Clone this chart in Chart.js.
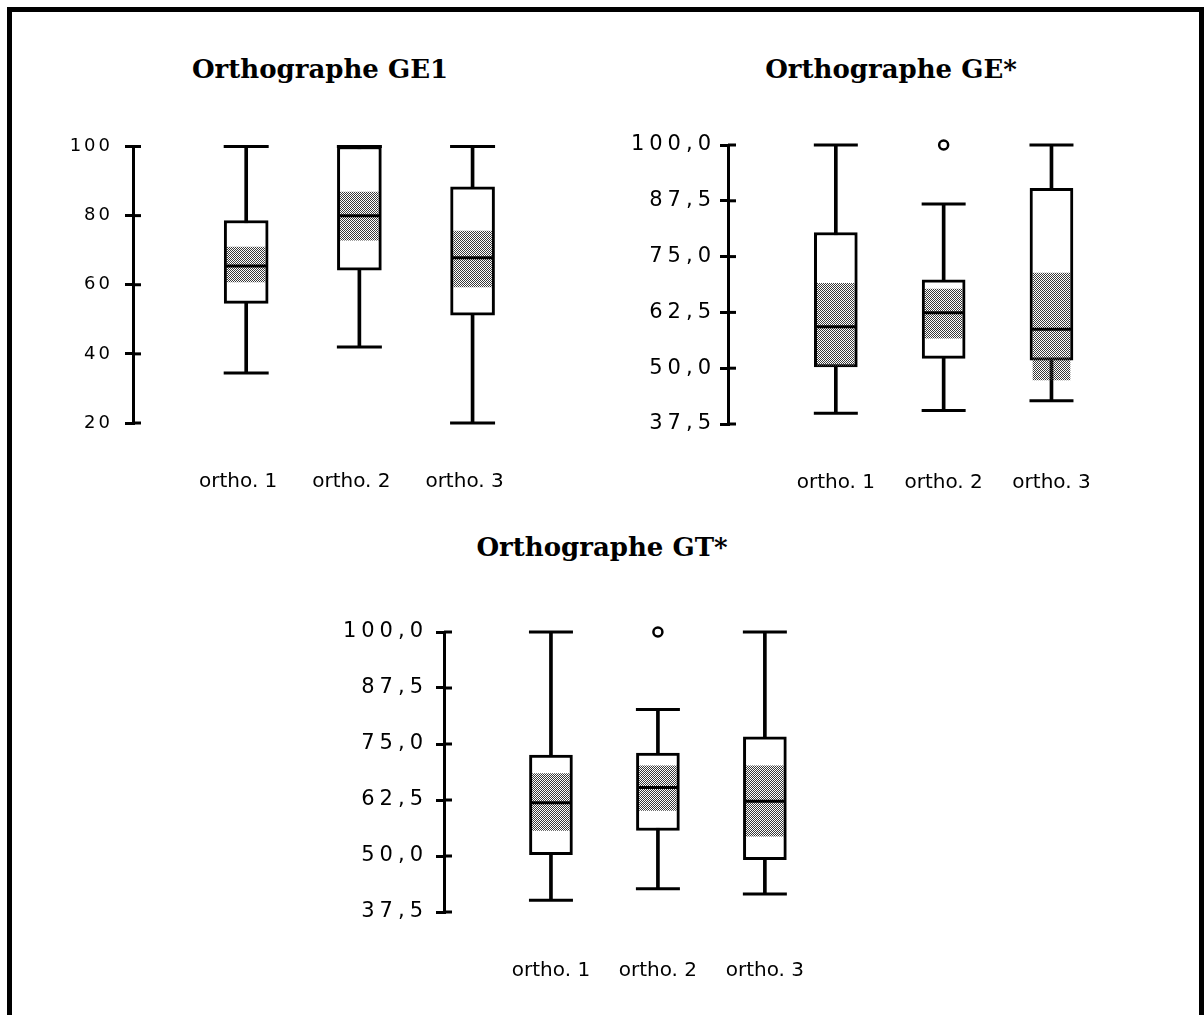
<!DOCTYPE html>
<html>
<head>
<meta charset="utf-8">
<script src="https://cdn.jsdelivr.net/npm/chart.js@4.4.1/dist/chart.umd.min.js"></script>
<style>
  html, body { margin: 0; padding: 0; background: #fff; overflow: hidden; width: 1204px; height: 1015px; }
  #frame { position: absolute; left: 7px; top: 7px; width: 1187px; height: 1003px;
    border: 5px solid #000; border-bottom: none; }
  .title { position: absolute; width: 400px; text-align: center; font-family: 'DejaVu Serif', serif;
    font-weight: bold; font-size: 26px; line-height: 26px; color: #000; }
  canvas { position: absolute; }
</style>
</head>
<body>
<div id="frame"></div>
<div class="title" style="left:120px; top:56px;">Orthographe GE1</div>
<div class="title" style="left:691px; top:56px;">Orthographe GE*</div>
<div class="title" style="left:402px; top:534px;">Orthographe GT*</div>
<canvas id="chartGE1" width="526" height="382" style="left:23px; top:121px;"></canvas>
<canvas id="chartGEs" width="507" height="384" style="left:618px; top:120px;"></canvas>
<canvas id="chartGTs" width="504" height="385" style="left:334px; top:607px;"></canvas>
<script>
const categories = ['ortho. 1', 'ortho. 2', 'ortho. 3'];

// Orthographe GE1
const ge1Ticks = [20, 40, 60, 80, 100];
const ge1Min = [34.5, 42, 20];
const ge1Q1 = [54.6, 64.2, 51.2];
const ge1Median = [65.4, 80, 67.8];
const ge1Q3 = [78.6, 100, 88.3];
const ge1Max = [100, 100, 100];
const ge1NotchLow = [60.8, 72.9, 59.4];
const ge1NotchHigh = [70.9, 86.8, 75.5];
const ge1Outliers = [null, null, null];

// Orthographe GE*
const gesTicks = [37.5, 50, 62.5, 75, 87.5, 100];
const gesMin = [39.9, 40.5, 42.7];
const gesQ1 = [50.3, 52.2, 51.8];
const gesMedian = [59.3, 62.4, 58.7];
const gesQ3 = [80.4, 69.8, 90.3];
const gesMax = [100, 86.8, 100];
const gesNotchLow = [50.5, 56.7, 47.4];
const gesNotchHigh = [69, 67.7, 71.3];
const gesOutliers = [null, 100, null];

// Orthographe GT*
const gtsTicks = [37.5, 50, 62.5, 75, 87.5, 100];
const gtsMin = [40.1, 42.7, 41.5];
const gtsQ1 = [50.3, 55.7, 49.2];
const gtsMedian = [61.9, 65.3, 62.2];
const gtsQ3 = [72.5, 73, 76.6];
const gtsMax = [100, 82.7, 100];
const gtsNotchLow = [55.7, 60.2, 54.4];
const gtsNotchHigh = [68.4, 70.1, 70.1];
const gtsOutliers = [null, 100, null];

// tick marks cross the axis line, chart.js only draws the outer half
const crossTicks = {
  id: 'crossTicks',
  afterDraw(chart) {
    const { ctx, chartArea, scales: { y } } = chart;
    ctx.save();
    ctx.strokeStyle = '#000';
    ctx.lineWidth = 3;
    y.ticks.forEach((t) => {
      const py = y.getPixelForValue(t.value);
      ctx.beginPath();
      ctx.moveTo(chartArea.left, py);
      ctx.lineTo(chartArea.left + 8, py);
      ctx.stroke();
    });
    ctx.restore();
  },
};

// the old printout has widely spaced digits
const letterSpacing = {
  id: 'letterSpacing',
  afterUpdate(chart, args, opts) {
    ['x', 'y'].forEach((id) => {
      const scale = chart.scales[id];
      if (!scale || scale._lsPatched) return;
      const draw = scale.drawLabels.bind(scale);
      scale.drawLabels = (area) => {
        const ctx = scale.ctx;
        ctx.save();
        ctx.letterSpacing = (opts[id] || 0) + 'px';
        draw(area);
        ctx.restore();
      };
      scale._lsPatched = true;
    });
  },
};

function stipple(ctx) {
  const tile = document.createElement('canvas');
  tile.width = 2;
  tile.height = 2;
  const g = tile.getContext('2d');
  g.fillStyle = '#3a3a3a';
  g.fillRect(0, 0, 1, 1);
  g.fillRect(1, 1, 1, 1);
  return ctx.createPattern(tile, 'repeat');
}

function drawBoxChart(id, cfg) {
  const ctx = document.getElementById(id).getContext('2d');
  const at = (vals) => vals.map((v, i) => ({ x: i + 1, y: v }));
  const range = (lo, hi) => lo.map((v, i) => ({ x: i + 1, y: [v, hi[i]] }));
  const capPoint = { type: 'line', showLine: false, pointStyle: 'line', pointRadius: cfg.box / 2 + 0.5,
    pointBorderWidth: 3, pointBorderColor: '#000', clip: false };

  return new Chart(ctx, {
    type: 'bar',
    data: {
      datasets: [
        { data: range(cfg.min, cfg.max), backgroundColor: '#000', borderWidth: 0,
          barThickness: 3, grouped: false, order: 5, clip: false },
        { data: range(cfg.q1, cfg.q3), backgroundColor: '#fff', borderColor: '#000', borderWidth: 3,
          borderSkipped: false, barThickness: cfg.box, grouped: false, order: 4, clip: false },
        { data: range(cfg.notchLow, cfg.notchHigh), backgroundColor: stipple(ctx), borderWidth: 0,
          barThickness: cfg.box - 6, grouped: false, order: 3, clip: false },
        { ...capPoint, data: at(cfg.median), pointRadius: cfg.box / 2 - 1, order: 2 },
        { ...capPoint, data: at(cfg.min), order: 1 },
        { ...capPoint, data: at(cfg.max), order: 1 },
        { type: 'line', showLine: false, data: at(cfg.outliers), pointStyle: 'circle', pointRadius: 4.5,
          pointBorderWidth: 2.5, pointBorderColor: '#000', pointBackgroundColor: '#fff', order: 0, clip: false },
      ],
    },
    options: {
      responsive: false,
      animation: false,
      events: [],
      devicePixelRatio: 1,
      layout: { padding: { top: 15, right: 15, left: 0, bottom: 0 } },
      plugins: {
        legend: { display: false },
        tooltip: { enabled: false },
        letterSpacing: { x: 0, y: cfg.spacing },
      },
      scales: {
        x: {
          type: 'linear',
          min: 0,
          max: 3.45,
          offset: false,
          grid: { display: false, drawTicks: false },
          border: { display: false },
          afterBuildTicks: (axis) => { axis.ticks = categories.map((c, i) => ({ value: i + 1 })); },
          ticks: {
            autoSkip: false,
            maxRotation: 0,
            padding: 47,
            labelOffset: cfg.labelShift,
            color: '#000',
            font: { family: 'DejaVu Sans', size: 20 },
            callback: (v) => categories[v - 1],
          },
          afterFit: (axis) => {
            axis.height = 80;
            axis.paddingLeft = 0;
            axis.paddingRight = 0;
          },
        },
        y: {
          min: cfg.ticks[0],
          max: cfg.ticks[cfg.ticks.length - 1],
          border: { display: true, color: '#000', width: 3 },
          grid: { drawOnChartArea: false, color: '#000', lineWidth: 3, tickLength: 8 },
          afterBuildTicks: (axis) => { axis.ticks = cfg.ticks.map((v) => ({ value: v })); },
          ticks: {
            padding: cfg.padding,
            color: '#000',
            font: { family: 'DejaVu Sans', size: cfg.fontSize },
            callback: cfg.format,
          },
          afterFit: (axis) => { axis.width = 110; },
        },
      },
    },
    plugins: [crossTicks, letterSpacing],
  });
}

const comma = (v) => v.toFixed(1).replace('.', ',');

drawBoxChart('chartGE1', {
  ticks: ge1Ticks, min: ge1Min, q1: ge1Q1, median: ge1Median, q3: ge1Q3, max: ge1Max,
  notchLow: ge1NotchLow, notchHigh: ge1NotchHigh, outliers: ge1Outliers,
  box: 44, fontSize: 18, spacing: 3, padding: 12, labelShift: -8, format: (v) => String(v),
});
drawBoxChart('chartGEs', {
  ticks: gesTicks, min: gesMin, q1: gesQ1, median: gesMedian, q3: gesQ3, max: gesMax,
  notchLow: gesNotchLow, notchHigh: gesNotchHigh, outliers: gesOutliers,
  box: 43, fontSize: 21, spacing: 5, padding: 4, labelShift: 0, format: comma,
});
drawBoxChart('chartGTs', {
  ticks: gtsTicks, min: gtsMin, q1: gtsQ1, median: gtsMedian, q3: gtsQ3, max: gtsMax,
  notchLow: gtsNotchLow, notchHigh: gtsNotchHigh, outliers: gtsOutliers,
  box: 43, fontSize: 21, spacing: 5, padding: 8, labelShift: 0, format: comma,
});
</script>
</body>
</html>
